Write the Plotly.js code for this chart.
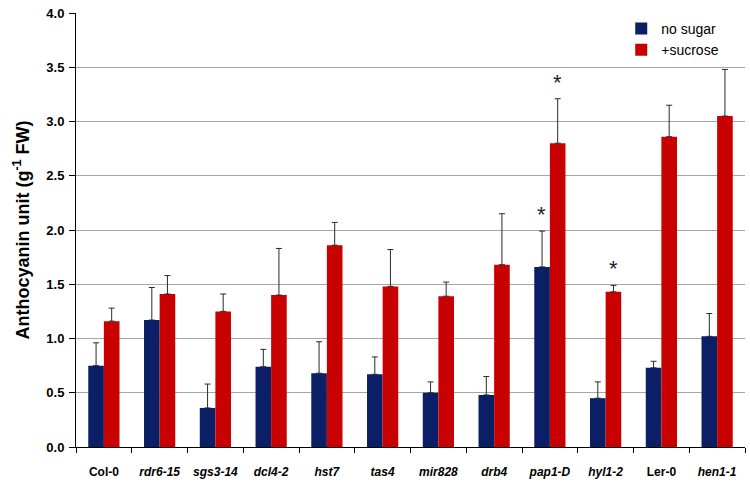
<!DOCTYPE html>
<html>
<head>
<meta charset="utf-8">
<script src="https://cdn.plot.ly/plotly-3.0.1.min.js"></script>
<style>
  html, body { margin: 0; padding: 0; background: #fff; }
  #chart { width: 750px; height: 485px; }
</style>
</head>
<body>
<div id="chart"></div>
<script>
const genotypes = ["Col-0", "rdr6-15", "sgs3-14", "dcl4-2", "hst7", "tas4", "mir828", "drb4", "pap1-D", "hyl1-2", "Ler-0", "hen1-1"];
const italicNames = ["rdr6-15", "sgs3-14", "dcl4-2", "hst7", "tas4", "mir828", "drb4", "pap1-D", "hyl1-2", "hen1-1"];

const noSugar = [0.75, 1.17, 0.36, 0.74, 0.68, 0.67, 0.50, 0.48, 1.66, 0.45, 0.73, 1.02];
const noSugarTop = [0.96, 1.47, 0.58, 0.90, 0.97, 0.83, 0.60, 0.65, 1.99, 0.60, 0.79, 1.23];
const sucrose = [1.16, 1.41, 1.25, 1.40, 1.86, 1.48, 1.39, 1.68, 2.80, 1.43, 2.86, 3.05];
const sucroseTop = [1.28, 1.58, 1.41, 1.83, 2.07, 1.82, 1.52, 2.15, 3.21, 1.49, 3.15, 3.48];

// significance marks: [genotype, series]
const stars = [["pap1-D", "no"], ["pap1-D", "suc"], ["hyl1-2", "suc"]];

const tickText = genotypes.map(g => italicNames.includes(g) ? `<b><i>${g}</i></b>` : `<b>${g}</b>`);

function upErr(vals, tops) {
  return tops.map((t, i) => +(t - vals[i]).toFixed(3));
}

const errStyle = { type: "data", symmetric: false, color: "#2a2a2a", thickness: 1, width: 3 };

const traces = [
  {
    type: "bar",
    name: "no sugar",
    x: genotypes,
    y: noSugar,
    marker: { color: "#0b1f66" },
    error_y: Object.assign({ array: upErr(noSugar, noSugarTop), arrayminus: noSugar.map(() => 0) }, errStyle),
  },
  {
    type: "bar",
    name: "+sucrose",
    x: genotypes,
    y: sucrose,
    marker: { color: "#c80000" },
    error_y: Object.assign({ array: upErr(sucrose, sucroseTop), arrayminus: sucrose.map(() => 0) }, errStyle),
  },
];

const annotations = stars.map(([g, s]) => {
  const i = genotypes.indexOf(g);
  const top = s === "no" ? noSugarTop[i] : sucroseTop[i];
  return {
    x: g,
    y: top,
    xref: "x",
    yref: "y",
    text: "*",
    showarrow: false,
    xshift: s === "no" ? -8 : 8,
    yanchor: "bottom",
    yshift: 2,
    font: { size: 22, color: "#222", family: "Liberation Sans, Arial, sans-serif" },
  };
});

const layout = {
  width: 750,
  height: 485,
  margin: { l: 76, r: 5, t: 13, b: 38 },
  paper_bgcolor: "#fff",
  plot_bgcolor: "#fff",
  font: { family: "Liberation Sans, Arial, sans-serif", color: "#000" },
  barmode: "group",
  bargap: 0.44,
  bargroupgap: 0,
  showlegend: true,
  legend: {
    x: 0.815,
    y: 1.0,
    xanchor: "left",
    yanchor: "top",
    bgcolor: "rgba(255,255,255,1)",
    font: { size: 14 },
    tracegroupgap: 8,
    itemwidth: 30,
  },
  xaxis: {
    tickvals: genotypes,
    ticktext: tickText,
    tickson: "boundaries",
    ticks: "outside",
    ticklen: 5,
    tickcolor: "#000",
    showline: true,
    linecolor: "#000",
    linewidth: 1,
    tickfont: { size: 12 },
    ticklabelstandoff: 14,
    showgrid: false,
  },
  yaxis: {
    range: [0, 4],
    dtick: 0.5,
    tickformat: ".1f",
    ticks: "outside",
    ticklen: 6,
    tickcolor: "#000",
    showline: true,
    linecolor: "#000",
    linewidth: 1,
    showgrid: true,
    gridcolor: "#a6a6a6",
    gridwidth: 1,
    zeroline: false,
    tickfont: { size: 13, weight: "bold" },
    ticklabelstandoff: 2,
    title: { text: "<b>Anthocyanin unit (g<sup>-1</sup> FW)</b>", font: { size: 18 }, standoff: 12 },
  },
  annotations: annotations,
};

Plotly.newPlot("chart", traces, layout, { displayModeBar: false, staticPlot: true });
</script>
</body>
</html>
